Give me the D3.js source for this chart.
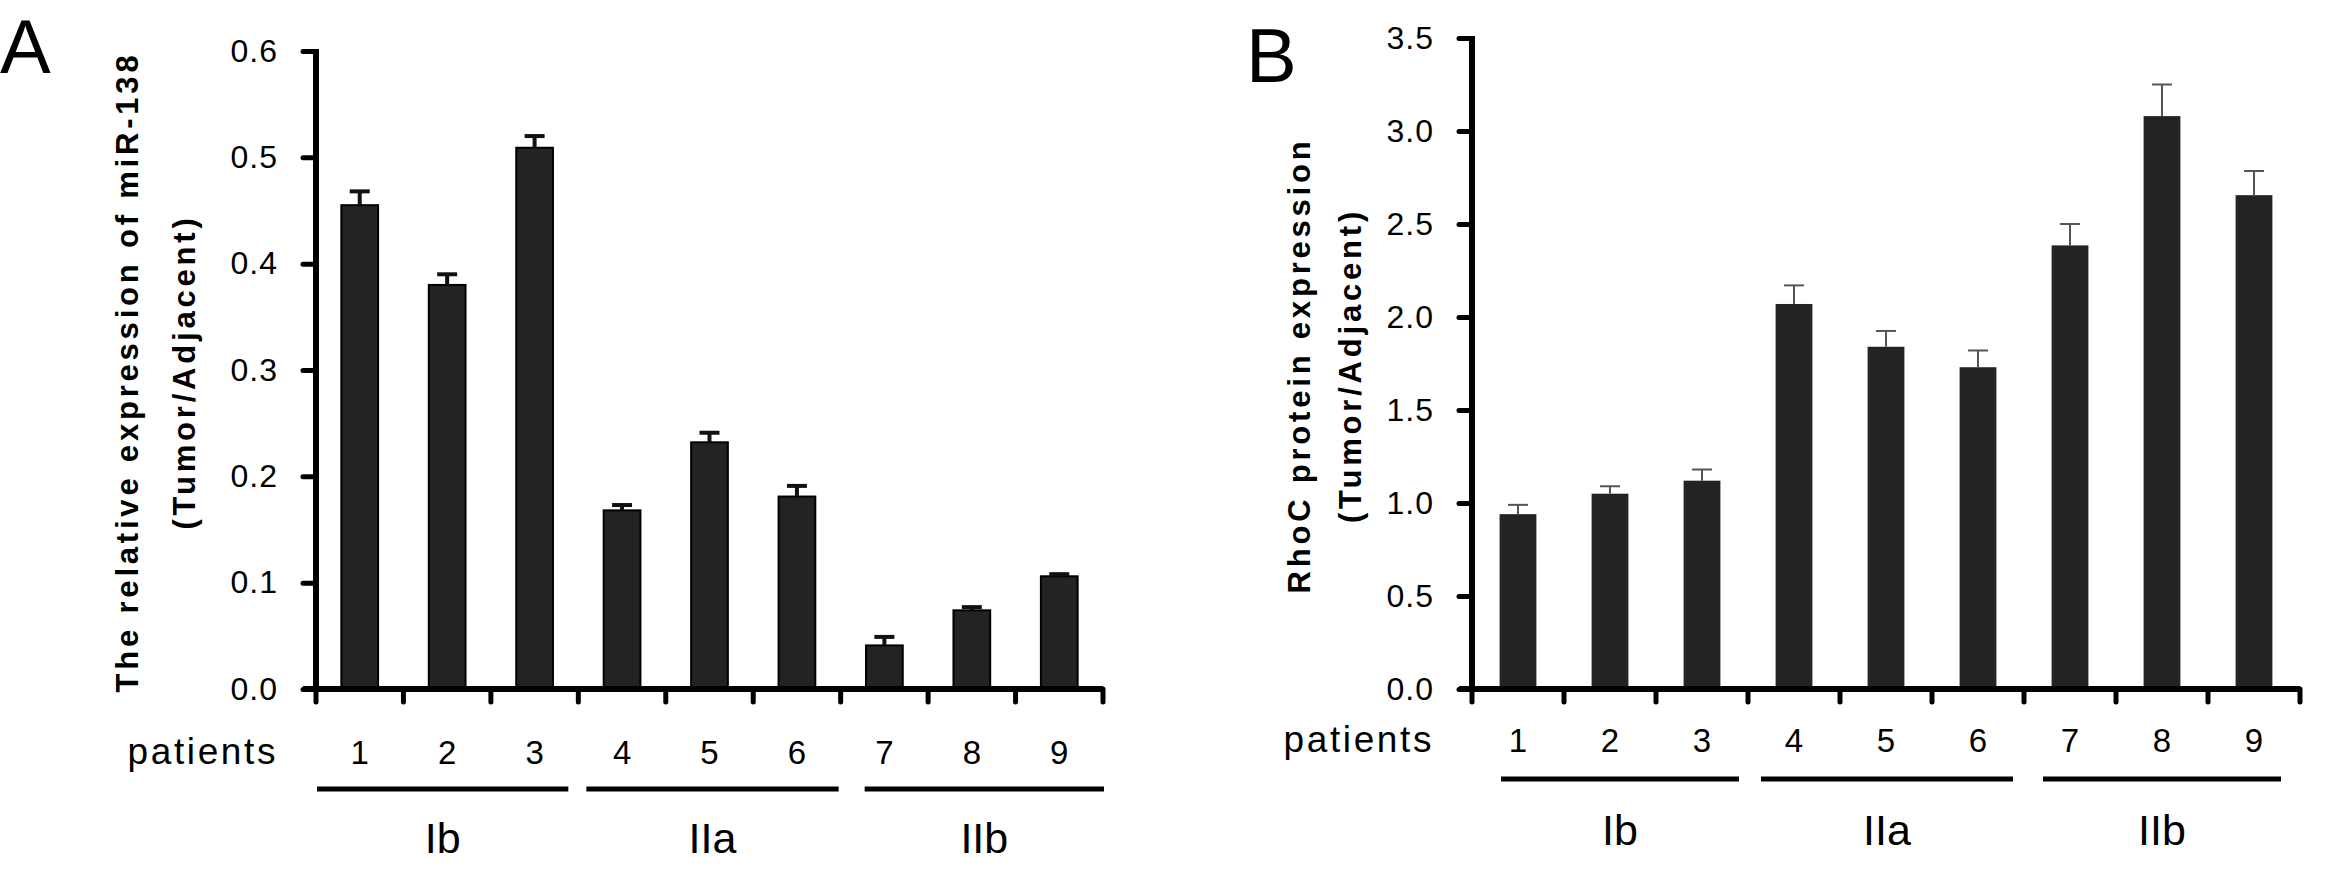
<!DOCTYPE html>
<html>
<head>
<meta charset="utf-8">
<script src="https://cdn.jsdelivr.net/npm/d3@7"></script>
<style>
  body { margin: 0; background: #fff; }
  text { font-family: "Liberation Sans", Arial, sans-serif; fill: #000; }
</style>
</head>
<body>
<svg id="fig" width="2332" height="876"></svg>
<script>
// data
var patients = ["1", "2", "3", "4", "5", "6", "7", "8", "9"];
var stages = ["Ib", "IIa", "IIb"];
var stagePatients = [["1", "2", "3"], ["4", "5", "6"], ["7", "8", "9"]];

var mirValues = [0.455, 0.380, 0.509, 0.168, 0.232, 0.181, 0.041, 0.074, 0.106];
var mirErrors = [0.013, 0.010, 0.011, 0.005, 0.009, 0.010, 0.008, 0.003, 0.002];
var mirTicks = [0.0, 0.1, 0.2, 0.3, 0.4, 0.5, 0.6];

var rhocValues = [0.94, 1.05, 1.12, 2.07, 1.84, 1.73, 2.385, 3.08, 2.655];
var rhocErrors = [0.05, 0.04, 0.06, 0.10, 0.085, 0.09, 0.115, 0.17, 0.13];
var rhocTicks = [0.0, 0.5, 1.0, 1.5, 2.0, 2.5, 3.0, 3.5];

var svg = d3.select("#fig");

function drawPanel(p) {
    var g = svg.append("g");

    var x = d3.scaleBand()
        .domain(patients)
        .range([p.left, p.right])
        .padding(0);

    var y = d3.scaleLinear()
        .domain([0, p.ticks[p.ticks.length - 1]])
        .range([p.bottom, p.top]);

    var barW = x.bandwidth() * p.barRatio;

    // panel letter
    g.append("text")
        .attr("x", p.letterX)
        .attr("y", p.letterY)
        .style("font-size", "76px")
        .text(p.letter);

    // bars
    g.selectAll(".bar")
        .data(p.values)
        .join("rect")
        .attr("class", "bar")
        .attr("x", (d, i) => x(patients[i]) + (x.bandwidth() - barW) / 2)
        .attr("y", d => y(d))
        .attr("width", barW)
        .attr("height", d => y(0) - y(d))
        .attr("fill", "#232323")
        .attr("stroke", p.barStroke)
        .attr("stroke-width", p.barStroke == "none" ? 0 : 2);

    // error bars (upper only)
    var eb = g.append("g")
        .attr("stroke", p.errColor)
        .attr("stroke-width", p.errWidth);
    p.values.forEach(function (v, i) {
        var cx = x(patients[i]) + x.bandwidth() / 2;
        eb.append("line")
            .attr("x1", cx).attr("x2", cx)
            .attr("y1", y(v)).attr("y2", y(v + p.errors[i]));
        eb.append("line")
            .attr("x1", cx - 10).attr("x2", cx + 10)
            .attr("y1", y(v + p.errors[i])).attr("y2", y(v + p.errors[i]));
    });

    // y axis
    var yAxis = d3.axisLeft(y)
        .tickValues(p.ticks)
        .tickFormat(d3.format(".1f"))
        .tickSize(13)
        .tickPadding(25);
    var ya = g.append("g")
        .attr("transform", `translate(${p.left},0)`)
        .call(yAxis);
    ya.select(".domain").remove();
    ya.append("line")
        .attr("x1", 0).attr("x2", 0)
        .attr("y1", y.range()[1] - 2).attr("y2", y(0))
        .attr("stroke", "#000").attr("stroke-width", 6);
    ya.selectAll(".tick line")
        .attr("stroke", "#000").attr("stroke-width", 5)
        .attr("stroke-linecap", "round");
    ya.selectAll(".tick text")
        .style("font-size", "32px")
        .style("letter-spacing", "1px")
        .attr("fill", "#000");

    // x axis: baseline with boundary ticks
    var bounds = patients.map(d => x(d)).concat([p.right]);
    g.append("line")
        .attr("x1", p.left - 13).attr("x2", p.right)
        .attr("y1", y(0)).attr("y2", y(0))
        .attr("stroke", "#000").attr("stroke-width", 6);
    g.selectAll(".xtick")
        .data(bounds)
        .join("line")
        .attr("class", "xtick")
        .attr("x1", d => d).attr("x2", d => d)
        .attr("y1", y(0)).attr("y2", y(0) + 13)
        .attr("stroke", "#000").attr("stroke-width", 5)
        .attr("stroke-linecap", "round");

    // patient numbers
    g.selectAll(".pnum")
        .data(patients)
        .join("text")
        .attr("class", "pnum")
        .attr("x", d => x(d) + x.bandwidth() / 2)
        .attr("y", p.numY)
        .attr("text-anchor", "middle")
        .style("font-size", "33px")
        .text(d => d);

    g.append("text")
        .attr("x", p.left - 38)
        .attr("y", p.numY)
        .attr("text-anchor", "end")
        .style("font-size", "37px")
        .style("letter-spacing", "2.6px")
        .text("patients");

    // stage lines and labels
    stages.forEach(function (s, i) {
        var members = stagePatients[i];
        var x0 = x(members[0]) + p.insets[i][0];
        var x1 = x(members[members.length - 1]) + x.bandwidth() + p.insets[i][1];
        g.append("line")
            .attr("x1", x0).attr("x2", x1)
            .attr("y1", p.lineY).attr("y2", p.lineY)
            .attr("stroke", "#000").attr("stroke-width", 5);
        g.append("text")
            .attr("x", (x0 + x1) / 2)
            .attr("y", p.stageY)
            .attr("text-anchor", "middle")
            .style("font-size", "43px")
            .text(s);
    });

    // rotated y title, two lines
    var cy = (p.top + p.bottom) / 2;
    p.titles.forEach(function (t, i) {
        g.append("text")
            .attr("transform", `translate(${p.titleX[i]},${cy + 2}) rotate(-90)`)
            .attr("text-anchor", "middle")
            .style("font-size", "31px")
            .style("font-weight", "bold")
            .style("letter-spacing", "3.8px")
            .text(t);
    });
}

drawPanel({
    letter: "A", letterX: 0, letterY: 73,
    left: 316, right: 1103, top: 51, bottom: 689,
    ticks: mirTicks, values: mirValues, errors: mirErrors,
    barRatio: 0.42, barStroke: "#000",
    errColor: "#111", errWidth: 4,
    numY: 764, lineY: 789, stageY: 853,
    insets: [[1, -10], [8, -2], [24, 1]],
    titles: ["The relative expression of miR-138", "(Tumor/Adjacent)"],
    titleX: [138, 195]
});

drawPanel({
    letter: "B", letterX: 1246, letterY: 82,
    left: 1472, right: 2300, top: 38, bottom: 689,
    ticks: rhocTicks, values: rhocValues, errors: rhocErrors,
    barRatio: 0.4, barStroke: "none",
    errColor: "#555", errWidth: 2,
    numY: 752, lineY: 779, stageY: 845,
    insets: [[29, -9], [13, -11], [19, -19]],
    titles: ["RhoC protein expression", "(Tumor/Adjacent)"],
    titleX: [1310, 1361]
});
</script>
</body>
</html>
